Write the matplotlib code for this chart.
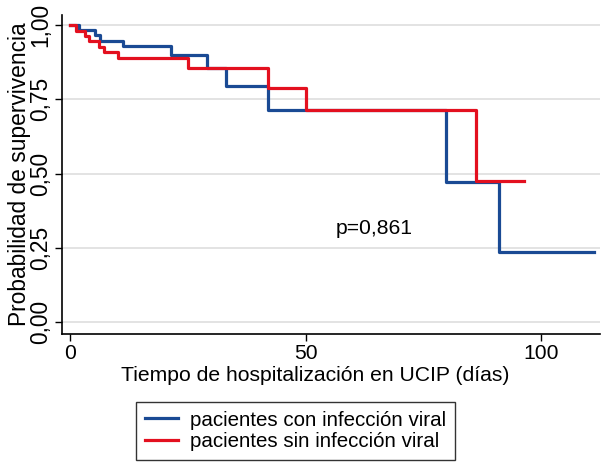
import matplotlib
matplotlib.use("Agg")
import matplotlib.pyplot as plt
from matplotlib.ticker import FixedLocator

plt.rcParams['font.family'] = ['Liberation Sans', 'DejaVu Sans']

# Data
viral_times = [0, 2.0, 5.3, 6.4, 11.3, 21.4, 29.0, 33.1, 42.0, 79.8, 91.0, 111.2]
viral_surv = [1.0, 0.984, 0.966, 0.946, 0.928, 0.901, 0.854, 0.796, 0.714, 0.473, 0.236, 0.236]
noviral_times = [0, 1.2, 3.2, 4.1, 6.2, 7.3, 10.1, 25.0, 42.1, 50.1, 86.1, 96.3]
noviral_surv = [1.0, 0.981, 0.963, 0.946, 0.927, 0.909, 0.888, 0.854, 0.787, 0.714, 0.475, 0.475]

label_viral = "pacientes con infección viral"
label_noviral = "pacientes sin infección viral"
p_text = "p=0,861"
xticks = [0, 50, 100]
yticks = [0.0, 0.25, 0.5, 0.75, 1.0]
ytick_labels = ["0,00", "0,25", "0,50", "0,75", "1,00"]

blue = "#1a4a94"
red = "#e3101f"
fs = 15.2
fs_v = 16.4

fig = plt.figure(figsize=(6.03, 4.63), dpi=100)
ax = fig.add_axes([62/603, 1-334/463, (600-62)/603, (334-15)/463])

for y in yticks:
    ax.axhline(y, color="#dedede", lw=1.2, zorder=0)

l1, = ax.step(viral_times, viral_surv, where="post", color=blue, lw=2.3, label=label_viral)
l2, = ax.step(noviral_times, noviral_surv, where="post", color=red, lw=2.3, label=label_noviral)

ax.text(64.5, 0.316, p_text, ha="center", va="center", fontsize=fs)

ax.set_xlim(-1.7, 112.5)
ax.set_ylim(-0.04, 1.034)
ax.xaxis.set_major_locator(FixedLocator(xticks))
ax.set_xticklabels([str(x) for x in xticks], fontsize=fs)
ax.yaxis.set_major_locator(FixedLocator(yticks))
ax.set_yticklabels(ytick_labels, fontsize=fs_v, rotation=90, va="center")
ax.tick_params(axis="both", length=5, width=1, color="black", pad=2)

for s in ["top", "right"]:
    ax.spines[s].set_visible(False)
for s in ["left", "bottom"]:
    ax.spines[s].set_linewidth(1.2)
    ax.spines[s].set_color("black")

ax.set_xlabel("Tiempo de hospitalización en UCIP (días)", fontsize=fs)
ax.xaxis.set_label_coords((315-62)/538, (334-366)/319)
ax.set_ylabel("Probabilidad de supervivencia", fontsize=fs_v)
ax.yaxis.set_label_coords((31-62)/538, 0.5)

leg = fig.legend(handles=[l1, l2], loc="upper left", bbox_to_anchor=(136/603, 1-402/463),
                 fontsize=14.8, frameon=True, fancybox=False, handlelength=1.6,
                 handletextpad=0.6, labelspacing=0.12, borderpad=0.42, borderaxespad=0)
leg.get_frame().set_edgecolor("black")
leg.get_frame().set_linewidth(1.0)

fig.savefig("out.png", dpi=100)
